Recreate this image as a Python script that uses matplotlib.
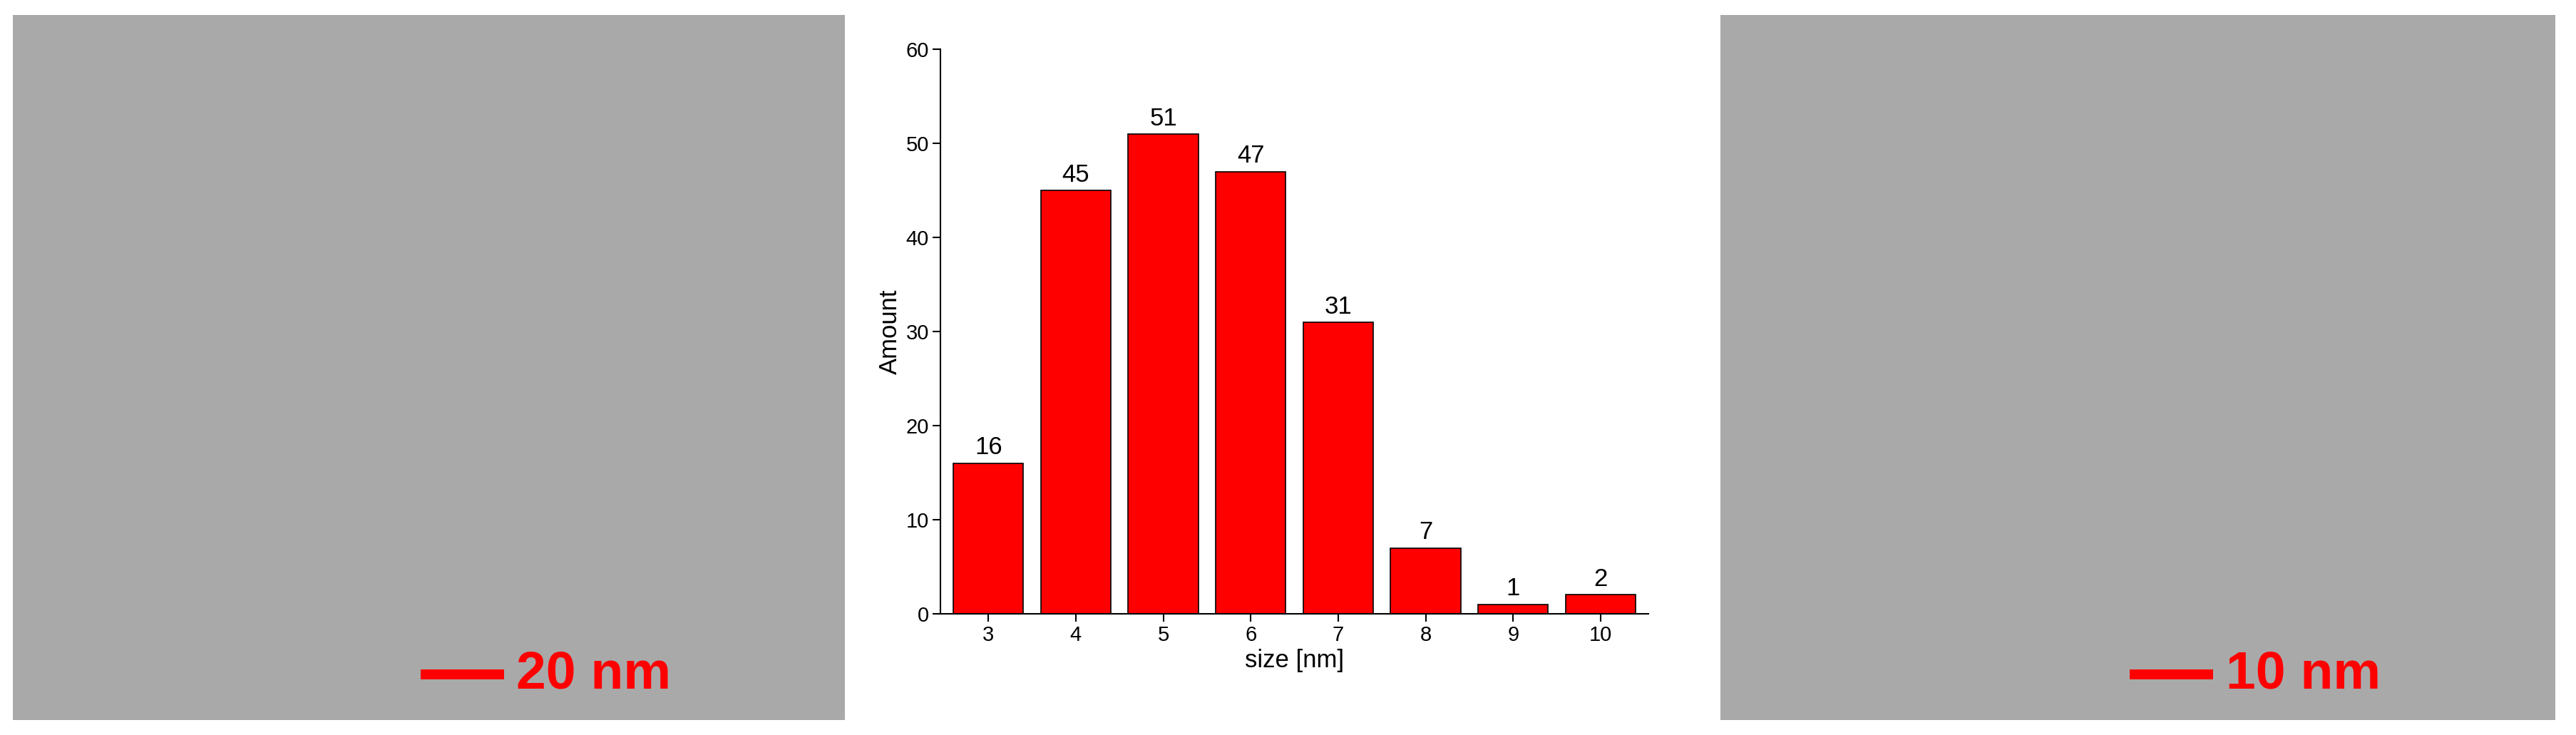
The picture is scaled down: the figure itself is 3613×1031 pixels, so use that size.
import matplotlib
matplotlib.use("Agg")
import matplotlib.pyplot as plt

# 粒径分布数据
sizes = [3, 4, 5, 6, 7, 8, 9, 10]
amounts = [16, 45, 51, 47, 31, 7, 1, 2]
scale_labels = ["20 nm", "10 nm"]

plt.rcParams["font.family"] = ["Liberation Sans", "DejaVu Sans"]
fig = plt.figure(figsize=(36.13, 10.31), dpi=100)

# 左右两幅TEM图位置（无原图，用灰色面板代替）
img_boxes = [[0.005, 0.02, 0.323, 0.96], [0.668, 0.02, 0.324, 0.96]]
for box, lab in zip(img_boxes, scale_labels):
    ax = fig.add_axes(box)
    ax.set_facecolor("#a9a9a9")
    ax.set_xlim(0, 1)
    ax.set_ylim(0, 1)
    ax.set_xticks([])
    ax.set_yticks([])
    for s in ax.spines.values():
        s.set_visible(False)
    x0 = 0.49
    ax.plot([x0, x0 + 0.10], [0.065, 0.065], color="red", lw=10, solid_capstyle="butt")
    ax.text(x0 + 0.115, 0.065, lab, color="red", fontsize=54, fontweight="bold",
            va="center", ha="left")

# 中间柱状图
ax = fig.add_axes([0.365, 0.165, 0.275, 0.768])
bars = ax.bar(sizes, amounts, width=0.8, color="red", edgecolor="black", linewidth=1.2)
for x, v in zip(sizes, amounts):
    ax.text(x, v + 0.4, str(v), ha="center", va="bottom", fontsize=25)
ax.set_xlim(2.45, 10.55)
ax.set_ylim(0, 60)
ax.set_xticks(sizes)
ax.set_yticks(range(0, 61, 10))
ax.tick_params(labelsize=21, direction="out", length=8, width=1.5)
ax.spines["top"].set_visible(False)
ax.spines["right"].set_visible(False)
ax.spines["left"].set_linewidth(1.5)
ax.spines["bottom"].set_linewidth(1.5)
ax.set_xlabel("size [nm]", fontsize=25)
ax.set_ylabel("Amount", fontsize=25)

fig.savefig("out.png", dpi=100, facecolor="white")
